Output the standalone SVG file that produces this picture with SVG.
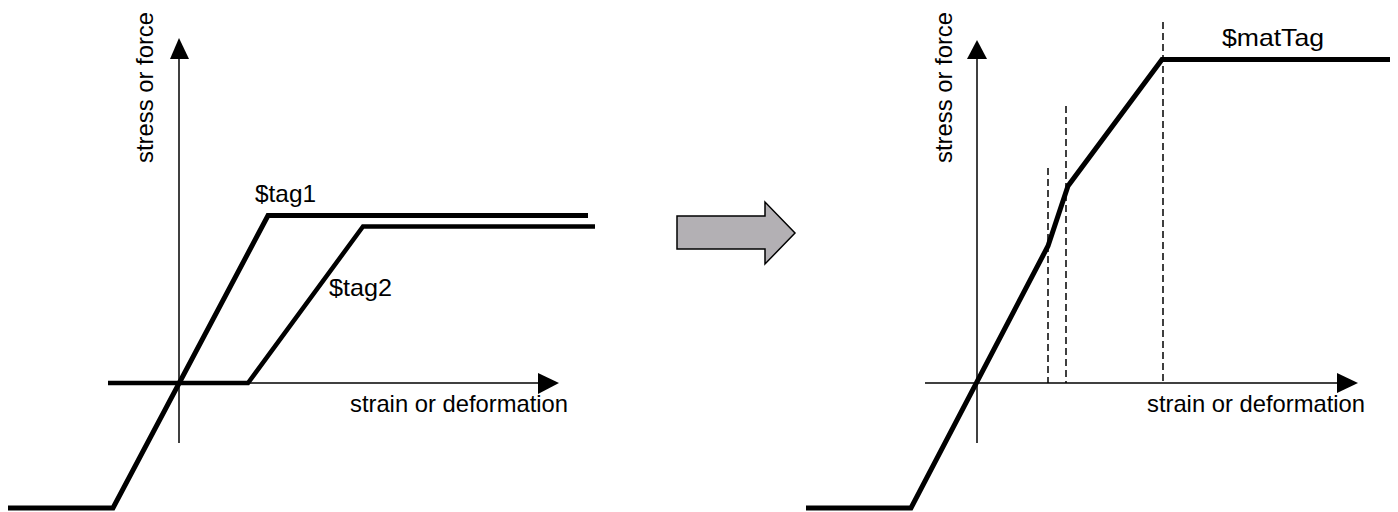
<svg xmlns="http://www.w3.org/2000/svg" width="1398" height="512" viewBox="0 0 1398 512">
<style>
.axis{stroke:#000;stroke-width:1.5;fill:none}
.curve{stroke:#000;stroke-width:5;fill:none;stroke-linejoin:miter;stroke-linecap:butt}
.dash{stroke:#000;stroke-width:1.5;fill:none;stroke-dasharray:7 4}
.head{fill:#000}
.lbl{font-family:"Liberation Sans",Arial,sans-serif;font-size:24px;fill:#000}
</style>
<rect width="1398" height="512" fill="#fff"/>
<g id="left-plot">
  <g id="left-axes">
    <line class="axis" x1="179" y1="443" x2="179" y2="58"/>
    <polygon class="head" points="179,38 170,59 189,59"/>
    <line class="axis" x1="108" y1="383" x2="540" y2="383"/>
    <polygon class="head" points="559,383 538,373 538,394"/>
    <text class="lbl" transform="translate(153,163) rotate(-90)" textLength="151" lengthAdjust="spacingAndGlyphs">stress or force</text>
    <text class="lbl" x="350" y="412" textLength="218" lengthAdjust="spacingAndGlyphs">strain or deformation</text>
  </g>
  <g id="tag1">
    <polyline class="curve" points="8,508 113,508 268,215.5 588,215.5"/>
    <text class="lbl" x="255" y="202" textLength="61" lengthAdjust="spacingAndGlyphs">$tag1</text>
  </g>
  <g id="tag2">
    <polyline class="curve" style="stroke-width:4.5" points="108,383 248,383 363,226.5 595,226.5"/>
    <text class="lbl" x="329" y="296" textLength="63" lengthAdjust="spacingAndGlyphs">$tag2</text>
  </g>
</g>
<g id="connectors">
  <polygon id="block-arrow" points="677,216 765,216 765,202 795,233 765,264 765,249 677,249" fill="#b3b0b4" stroke="#000" stroke-width="1.5"/>
</g>
<g id="right-plot">
  <g id="right-axes">
    <line class="axis" x1="977" y1="443" x2="977" y2="58"/>
    <polygon class="head" points="977,40 967,59 987,59"/>
    <line class="axis" x1="925" y1="383" x2="1339" y2="383"/>
    <polygon class="head" points="1358,383 1337,373 1337,393"/>
    <text class="lbl" transform="translate(952,163) rotate(-90)" textLength="151" lengthAdjust="spacingAndGlyphs">stress or force</text>
    <text class="lbl" x="1147" y="412" textLength="218" lengthAdjust="spacingAndGlyphs">strain or deformation</text>
  </g>
  <g id="dashes">
    <line class="dash" x1="1048" y1="168" x2="1048" y2="383"/>
    <line class="dash" x1="1066" y1="106" x2="1066" y2="383"/>
    <line class="dash" x1="1163" y1="22" x2="1163" y2="383"/>
  </g>
  <g id="matTag">
    <polyline class="curve" points="806,508 911,508 1048,246 1068,186 1162,59.5 1390,59.5"/>
    <text class="lbl" x="1222" y="46" textLength="102" lengthAdjust="spacingAndGlyphs">$matTag</text>
  </g>
</g>
</svg>
